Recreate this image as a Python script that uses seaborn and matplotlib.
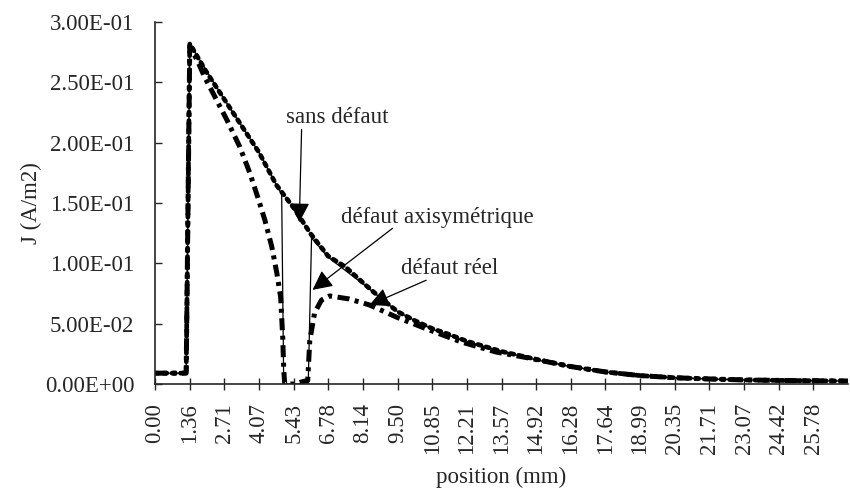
import matplotlib
matplotlib.use("Agg")
import matplotlib.pyplot as plt
import seaborn as sns

# Données (position en mm, J en A/m2)
x_sans = [0.0, 1.22, 1.36, 2.0, 2.71, 3.39, 4.07, 4.75, 5.43, 6.11, 6.78, 7.46, 8.14, 8.82,
          9.50, 10.18, 10.85, 11.53, 12.21, 13.57, 14.92, 16.28, 17.64, 18.99, 20.35, 21.71,
          23.07, 24.42, 25.78, 27.14]
j_sans = [0.009, 0.009, 0.282, 0.259, 0.236, 0.214, 0.192, 0.165, 0.146, 0.124, 0.106, 0.097,
          0.084, 0.0715, 0.060, 0.0525, 0.046, 0.041, 0.0355, 0.027, 0.0205, 0.0145, 0.010,
          0.007, 0.0052, 0.0042, 0.0034, 0.003, 0.0027, 0.0025]

x_axi = [0.0, 1.22, 1.36, 2.71, 4.07, 4.96, 5.04, 5.43, 6.0, 6.13, 6.78, 8.14, 9.50, 10.85,
         12.21, 13.57, 14.92, 16.28, 17.64, 18.99, 20.35, 21.71, 23.07, 24.42, 25.78, 27.14]
j_axi = [0.009, 0.009, 0.282, 0.236, 0.192, 0.157, 0.0, 0.0, 0.0, 0.121, 0.105, 0.083, 0.060,
         0.0455, 0.035, 0.027, 0.020, 0.0145, 0.010, 0.007, 0.0052, 0.0042, 0.0034, 0.003,
         0.0027, 0.0025]

x_reel = [0.0, 1.22, 1.36, 1.68, 1.95, 2.42, 2.81, 3.32, 3.71, 4.02, 4.30, 4.57, 4.77, 4.92,
          5.0, 5.04, 5.08, 5.43, 5.98, 6.06, 6.25, 6.52, 6.84, 7.6, 8.4, 9.45, 10.74, 12.0,
          13.36, 14.65, 16.28, 17.64, 18.99, 20.35, 21.71, 23.07, 24.42, 25.78, 27.14]
j_reel = [0.009, 0.009, 0.280, 0.267, 0.254, 0.235, 0.219, 0.1965, 0.175, 0.155, 0.136, 0.114,
          0.092, 0.072, 0.039, 0.012, 0.0, 0.0, 0.003, 0.036, 0.059, 0.0696, 0.073, 0.0705,
          0.0655, 0.0555, 0.0448, 0.0348, 0.0265, 0.0215, 0.0145, 0.010, 0.007, 0.0052,
          0.0042, 0.0034, 0.003, 0.0027, 0.0025]

x_ticks = [0.00, 1.36, 2.71, 4.07, 5.43, 6.78, 8.14, 9.50, 10.85, 12.21, 13.57, 14.92,
           16.28, 17.64, 18.99, 20.35, 21.71, 23.07, 24.42, 25.78]
x_labels = ['0.00', '1.36', '2.71', '4.07', '5.43', '6.78', '8.14', '9.50', '10.85', '12.21',
            '13.57', '14.92', '16.28', '17.64', '18.99', '20.35', '21.71', '23.07', '24.42',
            '25.78']
y_ticks = [0.0, 0.05, 0.10, 0.15, 0.20, 0.25, 0.30]
y_labels = ['0.00E+00', '5.00E-02', '1.00E-01', '1.50E-01', '2.00E-01', '2.50E-01', '3.00E-01']

sns.set_style('ticks')
plt.rcParams['font.family'] = ['Liberation Serif', 'DejaVu Serif']
fs = 16.5

fig, ax = plt.subplots(figsize=(8.5, 4.95), dpi=100)
fig.subplots_adjust(left=0.1824, right=0.9976, top=0.9556, bottom=0.2242)

# défaut réel : gros tirets
sns.lineplot(x=x_reel, y=j_reel, estimator=None, sort=False, ax=ax, color='black',
             linewidth=3.6, dashes=False, linestyle=(0, (2.4, 1.1, 0.8, 1.1)))
# sans défaut : gros pointillés
sns.lineplot(x=x_sans, y=j_sans, estimator=None, sort=False, ax=ax, color='black',
             linewidth=3.4, linestyle=(0, (0.7, 1.1)), dash_capstyle='round')
# défaut axisymétrique : trait fin
sns.lineplot(x=x_axi, y=j_axi, estimator=None, sort=False, ax=ax, color='black',
             linewidth=0.9)

ax.set_xlim(0, 27.14)
ax.set_ylim(0, 0.30)
ax.set_xticks(x_ticks)
ax.set_xticklabels(x_labels, rotation=90, fontsize=fs)
ax.set_yticks(y_ticks)
ax.set_yticklabels(y_labels, fontsize=fs)
ax.tick_params(axis='x', direction='inout', length=9, width=1, pad=9)
ax.tick_params(axis='y', direction='in', length=5, width=1, pad=15)
sns.despine(ax=ax)
for s in ['left', 'bottom']:
    ax.spines[s].set_linewidth(1.2)

ax.set_xlabel('position (mm)', fontsize=fs, labelpad=9)
ax.set_ylabel('J (A/m2)', fontsize=fs, labelpad=2)

arrow = dict(arrowstyle='-|>', color='black', lw=0.9, mutation_scale=30,
             shrinkA=0, shrinkB=0)
ax.text(7.15, 0.221, 'sans défaut', fontsize=fs, ha='center', va='center')
ax.annotate('', xy=(5.65, 0.134), xytext=(5.74, 0.211), arrowprops=arrow)
ax.text(11.05, 0.1376, 'défaut axisymétrique', fontsize=fs, ha='center', va='center')
ax.annotate('', xy=(6.17, 0.078), xytext=(9.3, 0.129), arrowprops=arrow)
ax.text(11.52, 0.096, 'défaut réel', fontsize=fs, ha='center', va='center')
ax.annotate('', xy=(8.4, 0.0655), xytext=(10.62, 0.086), arrowprops=arrow)

fig.savefig('out.png', dpi=100)
